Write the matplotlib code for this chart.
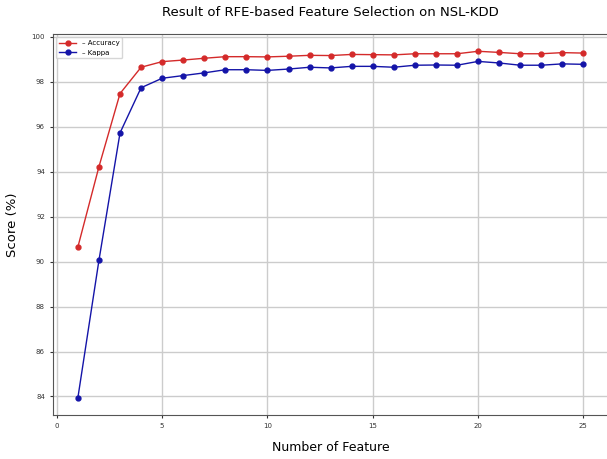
import matplotlib.pyplot as plt

# Dados
n_features = list(range(1, 26))
accuracy = [90.65, 94.22, 97.47, 98.64, 98.89, 98.96, 99.04, 99.11, 99.11, 99.10,
            99.13, 99.17, 99.16, 99.21, 99.20, 99.19, 99.24, 99.24, 99.24, 99.35,
            99.30, 99.24, 99.24, 99.29, 99.27]
kappa = [83.95, 90.06, 95.72, 97.73, 98.15, 98.27, 98.39, 98.53, 98.53, 98.50,
         98.56, 98.64, 98.61, 98.68, 98.68, 98.64, 98.73, 98.74, 98.73, 98.90,
         98.83, 98.73, 98.73, 98.79, 98.77]
x_ticks = [0, 5, 10, 15, 20, 25]
y_ticks = [84, 86, 88, 90, 92, 94, 96, 98, 100]

fig = plt.figure(figsize=(6.07, 4.59), dpi=100)
ax = fig.add_axes([0.0867, 0.096, 0.916, 0.830])

ax.plot(n_features, accuracy, 'o-', color='#d42a2a', lw=1, ms=3.5, label='– Accuracy')
ax.plot(n_features, kappa, 'o-', color='#1414a8', lw=1, ms=3.5, label='– Kappa')

ax.set_xticks(x_ticks)
ax.set_yticks(y_ticks)
ax.tick_params(labelsize=5, colors='#333333', length=2)
ax.grid(True, color='#cccccc', linewidth=1)
ax.set_axisbelow(True)

ax.set_title('Result of RFE-based Feature Selection on NSL-KDD', fontsize=9.5, pad=13)
ax.set_xlabel('Number of Feature', fontsize=9, labelpad=9)
ax.set_ylabel('Score (%)', fontsize=9.5, labelpad=9)
ax.legend(loc='upper left', fontsize=5, handlelength=2.5, borderpad=0.4)

for s in ax.spines.values():
    s.set_color('#555555')

fig.savefig('out.png', dpi=100)
